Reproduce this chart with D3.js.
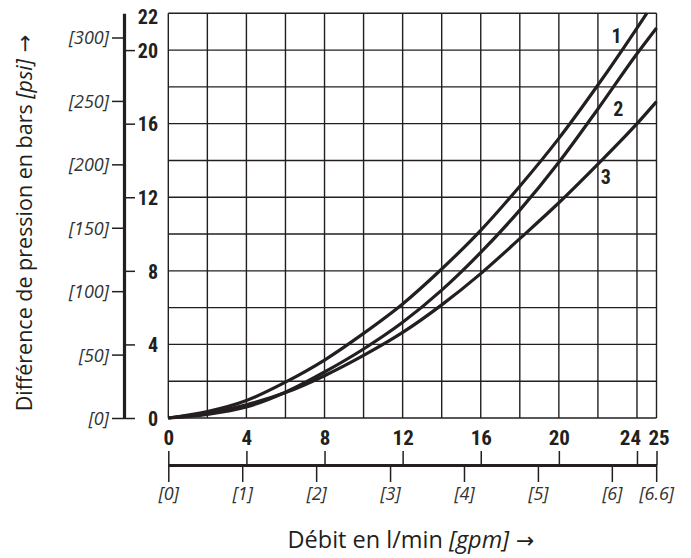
<!DOCTYPE html>
<html>
<head>
<meta charset="utf-8">
<script src="https://cdn.jsdelivr.net/npm/d3@7"></script>
<style>
  html, body { margin: 0; padding: 0; background: #fff; }
  svg { display: block; }
  .bold { font-family: "Liberation Sans Narrow", "Roboto Condensed", "DejaVu Sans Condensed", sans-serif; font-weight: bold; font-stretch: condensed; }
  .ital { font-family: "Open Sans", "Liberation Sans", sans-serif; font-style: italic; }
  .title { font-family: "Open Sans", "Liberation Sans", sans-serif; }
  .arrow { font-family: "DejaVu Sans", sans-serif; font-style: normal; }
</style>
</head>
<body>
<script>
// ---- data ----
const flowLmin = [0, 2, 4, 6, 8, 10, 12, 14, 16, 18, 20, 22, 24, 25];
const curve1Bar = [0, 0.35, 0.95, 1.95, 3.15, 4.6, 6.2, 8.1, 10.2, 12.6, 15.2, 18.1, 21.2, null];
const curve1End = [24.5, 22];
const curve2Bar = [0, 0.2, 0.6, 1.4, 2.5, 3.75, 5.2, 6.95, 9.0, 11.3, 13.9, 16.8, 19.8, 21.2];
const curve3Bar = [0, 0.28, 0.72, 1.38, 2.3, 3.4, 4.65, 6.15, 7.85, 9.75, 11.7, 13.8, 16.0, 17.2];
const curveNames = ["1", "2", "3"];
const curveLabelAt = [[22.96, 20.4], [23.04, 16.4], [22.41, 12.7]];
const barTicks = [0, 4, 8, 12, 16, 20, 22];
const psiTicks = [0, 50, 100, 150, 200, 250, 300];
const lminTicks = [0, 4, 8, 12, 16, 20, 24, 25];
const gpmTicks = [0, 1, 2, 3, 4, 5, 6, 6.6];
const gpmTickLabels = ["[0]", "[1]", "[2]", "[3]", "[4]", "[5]", "[6]", "[6.6]"];
const yTitle = "Différence de pression en bars ";
const yTitleUnit = "[psi]";
const xTitle = "Débit en l/min ";
const xTitleUnit = "[gpm]";

const W = 691, H = 558;
const ink = "#231f20";
const svg = d3.select("body").append("svg").attr("width", W).attr("height", H);

const x = d3.scaleLinear().domain([0, 25]).range([168.3, 656.5]);
const y = d3.scaleLinear().domain([0, 22]).range([418, 13.3]);
const PSI_PER_BAR = 14.5038, LMIN_PER_GPM = 3.78541;
const yPsi = d3.scaleLinear().domain([0, 22 * PSI_PER_BAR]).range(y.range());
const xGpm = d3.scaleLinear().domain([0, 25 / LMIN_PER_GPM]).range(x.range());

// grid
const grid = svg.append("g").attr("stroke", ink).attr("stroke-width", 1.4);
grid.selectAll("line.v").data(d3.range(0, 25, 2).concat([25])).join("line").attr("class", "v")
  .attr("x1", d => x(d)).attr("x2", d => x(d)).attr("y1", y(0)).attr("y2", y(22));
grid.selectAll("line.h").data(d3.range(0, 23, 2)).join("line").attr("class", "h")
  .attr("x1", x(0)).attr("x2", x(25)).attr("y1", d => y(d)).attr("y2", d => y(d));

// left axes
const axX = 124;
const barAxis = svg.append("g").attr("transform", `translate(${axX},0)`)
  .call(d3.axisRight(y).tickValues(barTicks).tickSize(11).tickSizeOuter(0).tickFormat(d3.format("d")));
barAxis.select(".domain").attr("stroke", ink).attr("stroke-width", 3.2);
barAxis.selectAll(".tick line").attr("stroke", ink).attr("stroke-width", 1.5)
  .filter(d => d === 22).remove();
barAxis.selectAll(".tick text").attr("class", "bold").attr("x", 34).attr("text-anchor", "end")
  .attr("font-size", 20).attr("fill", ink).attr("dy", "0.36em")
  .filter(d => d === 22).attr("dy", "0.5em");

const psiAxis = svg.append("g").attr("transform", `translate(${axX},0)`)
  .call(d3.axisLeft(yPsi).tickValues(psiTicks).tickSize(12).tickSizeOuter(0).tickFormat(d => `[${d}]`));
psiAxis.select(".domain").remove();
psiAxis.selectAll(".tick line").attr("stroke", ink).attr("stroke-width", 1.5);
psiAxis.selectAll(".tick text").attr("class", "ital").attr("font-size", 18).attr("fill", "#333")
  .attr("x", -15).attr("dy", "0.36em");

// bottom axes
const botY = 465;
const lAxis = svg.append("g").attr("transform", `translate(0,${botY})`)
  .call(d3.axisTop(x).tickValues(lminTicks).tickSize(14).tickSizeOuter(0).tickPadding(6).tickFormat(d3.format("d")));
lAxis.select(".domain").attr("stroke", ink).attr("stroke-width", 3.2);
lAxis.selectAll(".tick line").attr("stroke", ink).attr("stroke-width", 1.5);
lAxis.selectAll(".tick text").attr("class", "bold").attr("font-size", 21).attr("fill", ink)
  .attr("dx", d => d === 24 ? -7 : (d === 25 ? 2 : 0));

const gAxis = svg.append("g").attr("transform", `translate(0,${botY})`)
  .call(d3.axisBottom(xGpm).tickValues(gpmTicks).tickSize(17).tickSizeOuter(0).tickPadding(5)
    .tickFormat((d, i) => gpmTickLabels[i]));
gAxis.select(".domain").remove();
gAxis.selectAll(".tick line").attr("stroke", ink).attr("stroke-width", 1.5);
gAxis.selectAll(".tick text").attr("class", "ital").attr("font-size", 18).attr("fill", "#333");

// curves
const line = d3.line().x(d => x(d[0])).y(d => y(d[1])).curve(d3.curveMonotoneX);
const c1 = flowLmin.map((q, i) => [q, curve1Bar[i]]).filter(d => d[1] !== null).concat([curve1End]);
const c2 = flowLmin.map((q, i) => [q, curve2Bar[i]]);
const c3 = flowLmin.map((q, i) => [q, curve3Bar[i]]);
svg.append("g").selectAll("path").data([c1, c2, c3]).join("path")
  .attr("d", line).attr("fill", "none").attr("stroke", ink).attr("stroke-width", 3.2)
  .attr("stroke-linecap", "butt");

// curve labels
svg.append("g").selectAll("text").data(curveNames).join("text")
  .attr("class", "bold").attr("font-size", 20).attr("fill", ink).attr("text-anchor", "middle")
  .attr("x", (d, i) => x(curveLabelAt[i][0])).attr("y", (d, i) => y(curveLabelAt[i][1]))
  .text(d => d);

// titles
const yt = svg.append("text").attr("class", "title").attr("font-size", 21.5).attr("fill", ink)
  .attr("text-anchor", "middle").attr("transform", "translate(32,223) rotate(-90)");
yt.append("tspan").text(yTitle);
yt.append("tspan").attr("font-style", "italic").text(yTitleUnit);
yt.append("tspan").attr("class", "arrow").attr("font-size", 21).text(" →");

const xt = svg.append("text").attr("class", "title").attr("font-size", 23.5).attr("fill", ink)
  .attr("text-anchor", "middle").attr("x", 411).attr("y", 548);
xt.append("tspan").text(xTitle);
xt.append("tspan").attr("font-style", "italic").text(xTitleUnit);
xt.append("tspan").attr("class", "arrow").attr("font-size", 22).text(" →");
</script>
</body>
</html>
